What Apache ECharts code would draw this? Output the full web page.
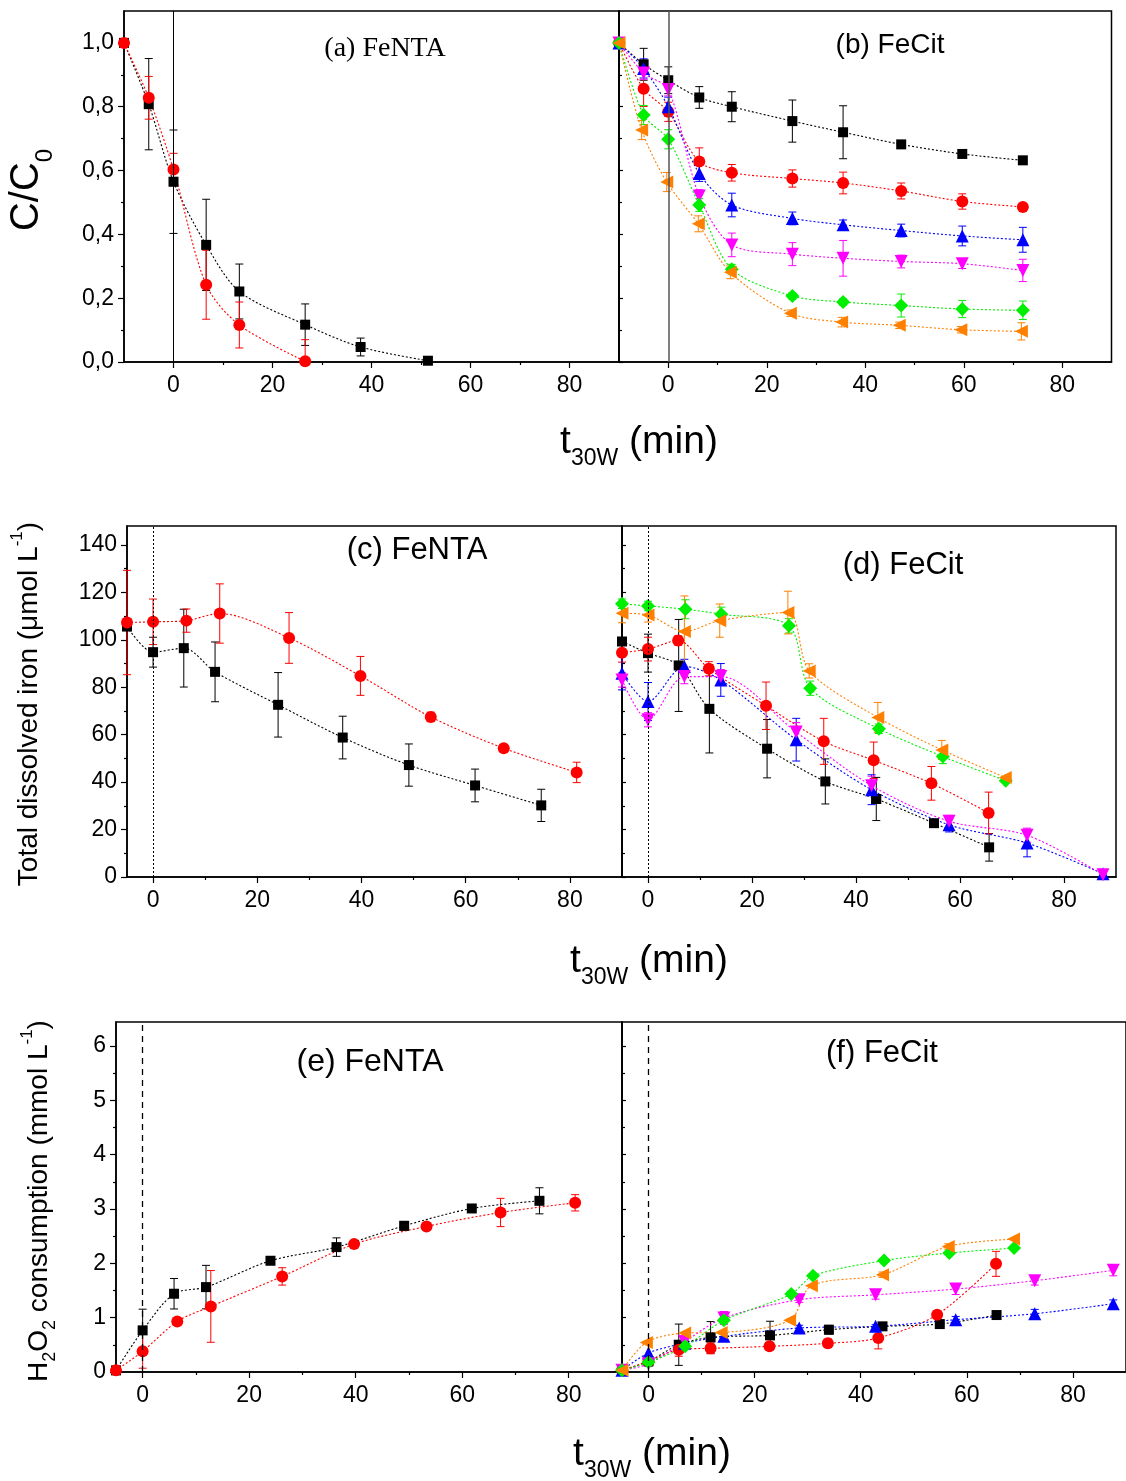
<!DOCTYPE html>
<html>
<head>
<meta charset="utf-8">
<script src="https://cdn.jsdelivr.net/npm/echarts@6/dist/echarts.min.js"></script>
<style>
  html, body { margin: 0; padding: 0; background: #ffffff; }
  #chart { width: 1126px; height: 1481px; }
</style>
</head>
<body>
<div id="chart"></div>
<script>
// ---- tick values ----
const timeTicks = [0, 20, 40, 60, 80];
const timeMinorTicks = [10, 30, 50, 70];
const ratioTicks = [0, 0.2, 0.4, 0.6, 0.8, 1.0];
const ratioMinorTicks = [0.1, 0.3, 0.5, 0.7, 0.9];
const ironTicks = [0, 20, 40, 60, 80, 100, 120, 140];
const ironMinorTicks = [10, 30, 50, 70, 90, 110, 130];
const h2o2Ticks = [0, 1, 2, 3, 4, 5, 6];
const h2o2MinorTicks = [0.5, 1.5, 2.5, 3.5, 4.5, 5.5];

// ---- data: [t30W (min), value, error] ----
// (a) FeNTA, C/C0
const ntaRatioBlack = [[-10, 1.0, 0], [-5, 0.808, 0.143], [0, 0.565, 0.162], [6.6, 0.367, 0.143], [13.3, 0.221, 0.086], [26.6, 0.117, 0.065], [37.8, 0.047, 0.028], [51.4, 0.004, 0]];
const ntaRatioRed = [[-10, 1.0, 0], [-5, 0.828, 0.067], [0, 0.603, 0.051], [6.6, 0.242, 0.108], [13.3, 0.116, 0.072], [26.6, 0.002, 0.068]];

// (b) FeCit, C/C0
const citRatioBlack = [[-10, 1, 0], [-5, 0.933, 0.05], [0, 0.883, 0.042], [6.3, 0.829, 0.034], [12.9, 0.8, 0.047], [25.2, 0.755, 0.066], [35.5, 0.72, 0.083], [47.3, 0.682, 0.01], [59.7, 0.652, 0.01], [72, 0.632, 0]];
const citRatioRed = [[-10, 1, 0], [-5, 0.856, 0.055], [0, 0.784, 0.03], [6.3, 0.628, 0.043], [12.9, 0.593, 0.026], [25.2, 0.575, 0.027], [35.5, 0.561, 0.034], [47.3, 0.536, 0.025], [59.7, 0.503, 0.024], [72, 0.486, 0]];
const citRatioBlue = [[-10, 1, 0], [-5, 0.92, 0.03], [0, 0.8, 0.03], [6.3, 0.591, 0.025], [12.9, 0.492, 0.037], [25.2, 0.45, 0.02], [35.5, 0.43, 0.015], [47.3, 0.412, 0.02], [59.7, 0.395, 0.031], [72, 0.383, 0.039]];
const citRatioMagenta = [[-10, 1, 0], [-5, 0.906, 0.02], [0, 0.854, 0.02], [6.3, 0.52, 0.02], [12.9, 0.367, 0.037], [25.2, 0.338, 0.036], [35.5, 0.325, 0.056], [47.3, 0.315, 0.02], [59.7, 0.308, 0.015], [72, 0.287, 0.035]];
const citRatioGreen = [[-10, 1, 0], [-5, 0.774, 0.03], [0, 0.698, 0.03], [6.3, 0.492, 0.02], [12.9, 0.291, 0.015], [25.2, 0.207, 0.01], [35.5, 0.188, 0.01], [47.3, 0.177, 0.036], [59.7, 0.166, 0.027], [72, 0.162, 0.029]];
const citRatioOrange = [[-10, 1, 0], [-5.4, 0.727, 0.03], [-0.3, 0.564, 0.03], [6.1, 0.433, 0.025], [12.6, 0.281, 0.02], [24.8, 0.153, 0.01], [35.2, 0.125, 0.015], [46.9, 0.115, 0.01], [59.4, 0.101, 0.01], [71.7, 0.096, 0.027]];

// (c) FeNTA, total dissolved iron
const ntaIronBlack = [[-5, 105.6, 0], [0, 94.8, 6.3], [5.9, 96.5, 16.4], [11.9, 86.5, 12.6], [24.0, 72.6, 13.6], [36.4, 58.8, 9], [49.1, 47.2, 8.9], [61.8, 38.6, 6.9], [74.5, 30.2, 6.8]];
const ntaIronRed = [[-5, 107.3, 22], [0, 107.6, 9.6], [6.4, 108.1, 4.9], [12.8, 111.1, 12.5], [26.1, 100.8, 10.7], [39.8, 84.8, 8.2], [53.3, 67.5, 2], [67.3, 54.3, 1.5], [81.3, 44.1, 4.3]];

// (d) FeCit, total dissolved iron
const citIronBlack = [[-5, 99.3, 0], [0, 94.4, 8], [5.9, 89.2, 19.4], [11.8, 70.9, 18.6], [22.9, 54.1, 12.3], [34.1, 40.3, 9.5], [43.9, 32.9, 9.1], [55.0, 22.7, 1.5], [65.6, 12.5, 5.8]];
const citIronRed = [[-5, 94.6, 4], [0, 96.1, 5], [5.8, 99.7, 2], [11.7, 87.8, 3], [22.7, 72.2, 10], [33.8, 57.2, 9.7], [43.4, 49.2, 7.7], [54.5, 39.5, 7.1], [65.5, 27.0, 8.8]];
const citIronBlue = [[-5, 85.9, 7], [0, 74.0, 8], [7.0, 88.8, 3], [14.0, 83.1, 6.9], [28.5, 57.9, 9], [43.0, 36.8, 6.3], [57.9, 22.0, 3], [72.9, 14.3, 5.8], [87.5, 1.4, 0]];
const citIronMagenta = [[-5, 83.1, 3], [0, 66.3, 3], [7.0, 84.5, 3], [14.0, 84.5, 3], [28.5, 61.1, 4], [43.0, 38.5, 4], [57.9, 23.5, 2.5], [72.9, 17.6, 3], [87.5, 1.0, 0]];
const citIronGreen = [[-5, 115.2, 2], [0, 114.3, 2], [7.2, 112.9, 4], [14.1, 110.8, 3], [27.1, 105.9, 3], [31.2, 79.6, 3], [44.4, 62.5, 2], [56.7, 50.8, 3], [68.8, 40.6, 0]];
const citIronOrange = [[-5, 111.2, 4], [0, 110.5, 3], [7.0, 103.5, 15], [13.8, 108.1, 7], [26.9, 111.5, 9], [31.0, 86.9, 3], [44.2, 67.3, 6.3], [56.5, 53.6, 4], [68.7, 42.0, 0]];

// (e) FeNTA, H2O2 consumption
const ntaH2o2Black = [[-5, 0.03, 0], [0, 0.766, 0.39], [5.9, 1.44, 0.28], [11.9, 1.562, 0.4], [24.0, 2.047, 0.05], [36.4, 2.298, 0.17], [49.1, 2.69, 0.08], [61.8, 3.009, 0.03], [74.5, 3.15, 0.24]];
const ntaH2o2Red = [[-5, 0.03, 0], [0, 0.38, 0.31], [6.5, 0.931, 0], [12.8, 1.207, 0.66], [26.2, 1.759, 0.16], [39.7, 2.353, 0.03], [53.3, 2.678, 0.03], [67.2, 2.935, 0.26], [81.2, 3.113, 0.15]];

// (f) FeCit, H2O2 consumption
const citH2o2Black = [[-5, 0.03, 0], [0, 0.196, 0], [5.7, 0.502, 0.38], [11.7, 0.637, 0.29], [22.9, 0.674, 0.26], [34.0, 0.778, 0.08], [44.1, 0.84, 0.03], [54.9, 0.882, 0.06], [65.6, 1.048, 0.03]];
const citH2o2Red = [[-5, 0.03, 0], [0, 0.2, 0.05], [5.7, 0.41, 0.12], [11.7, 0.435, 0.1], [22.8, 0.472, 0.06], [33.8, 0.527, 0.08], [43.3, 0.625, 0.2], [54.4, 1.054, 0], [65.5, 1.99, 0.23]];
const citH2o2Blue = [[-5, 0.03, 0], [0, 0.35, 0], [6.8, 0.53, 0.05], [14.2, 0.656, 0.05], [28.4, 0.81, 0.05], [42.8, 0.84, 0.03], [57.9, 0.962, 0.06], [72.8, 1.072, 0.08], [87.6, 1.256, 0.07]];
const citH2o2Magenta = [[-5, 0.03, 0], [0, 0.15, 0.05], [6.8, 0.56, 0.05], [14.2, 0.993, 0.12], [28.4, 1.33, 0.05], [42.8, 1.42, 0.08], [57.9, 1.526, 0.1], [72.8, 1.68, 0.08], [87.6, 1.87, 0.1]];
const citH2o2Green = [[-5, 0.03, 0], [0, 0.178, 0.04], [6.9, 0.472, 0.05], [14.2, 0.95, 0.05], [26.9, 1.434, 0], [31.0, 1.77, 0], [44.4, 2.05, 0], [56.7, 2.19, 0], [68.9, 2.28, 0]];
const citH2o2Orange = [[-5, 0.03, 0], [-0.4, 0.545, 0], [6.8, 0.717, 0], [13.7, 0.729, 0], [26.6, 0.95, 0], [30.7, 1.587, 0], [44.1, 1.79, 0.05], [56.5, 2.31, 0.05], [68.8, 2.445, 0]];

// ---- marker styles ----
const SANS = 'Liberation Sans, Arial, sans-serif';
const SERIF = 'Liberation Serif, Times New Roman, serif';
const marks = {
  black:   { color: '#000000', symbol: 'rect', size: 10, rotate: 0 },
  red:     { color: '#ff0000', symbol: 'circle', size: 12, rotate: 0 },
  blue:    { color: '#0000ff', symbol: 'triangle', size: 13, rotate: 0 },
  magenta: { color: '#ff00ff', symbol: 'triangle', size: 13, rotate: 180 },
  green:   { color: '#00ee00', symbol: 'diamond', size: [14, 14], rotate: 0 },
  orange:  { color: '#ff8000', symbol: 'triangle', size: 13, rotate: 90 }
};

// ---- panel layout ----
const panels = [
  { box: [124, 11, 495, 351], x: [-10, 90], y: [0, 1.1], yTicks: ratioTicks, yMinor: ratioMinorTicks, yLabels: true,
    fmt: v => v.toFixed(1).replace('.', ','), zero: { type: 'solid', color: '#000', width: 1 },
    sets: [['black', ntaRatioBlack], ['red', ntaRatioRed]] },
  { box: [619, 11, 492.5, 351], x: [-10, 90], y: [0, 1.1], yTicks: ratioTicks, yMinor: ratioMinorTicks, yLabels: false,
    zero: { type: 'solid', color: '#555', width: 1.5 },
    sets: [['black', citRatioBlack], ['red', citRatioRed], ['blue', citRatioBlue], ['magenta', citRatioMagenta], ['green', citRatioGreen], ['orange', citRatioOrange]] },
  { box: [127, 526, 495, 351], x: [-5, 90], y: [0, 148], yTicks: ironTicks, yMinor: ironMinorTicks, yLabels: true,
    fmt: v => String(v), zero: { type: [2, 2], color: '#000', width: 1 },
    sets: [['black', ntaIronBlack], ['red', ntaIronRed]] },
  { box: [622, 526, 494, 351], x: [-5, 90], y: [0, 148], yTicks: ironTicks, yMinor: ironMinorTicks, yLabels: false,
    zero: { type: [2, 2], color: '#000', width: 1 },
    sets: [['black', citIronBlack], ['red', citIronRed], ['blue', citIronBlue], ['magenta', citIronMagenta], ['green', citIronGreen], ['orange', citIronOrange]] },
  { box: [116, 1022, 506, 350], x: [-5, 90], y: [0, 6.44], yTicks: h2o2Ticks, yMinor: h2o2MinorTicks, yLabels: true,
    fmt: v => String(v), zero: { type: [6, 5], color: '#000', width: 1.3 },
    sets: [['black', ntaH2o2Black], ['red', ntaH2o2Red]] },
  { box: [622, 1022, 505, 350], x: [-5, 90], y: [0, 6.44], yTicks: h2o2Ticks, yMinor: h2o2MinorTicks, yLabels: false,
    zero: { type: [6, 5], color: '#000', width: 1.3 },
    sets: [['black', citH2o2Black], ['red', citH2o2Red], ['blue', citH2o2Blue], ['magenta', citH2o2Magenta], ['green', citH2o2Green], ['orange', citH2o2Orange]] }
];

const grid = [], xAxis = [], yAxis = [], series = [];

panels.forEach((p, i) => {
  const [l, t, w, h] = p.box;
  grid.push({ left: l, top: t, width: w, height: h, show: true, borderColor: '#000', borderWidth: 1.5, backgroundColor: 'transparent' });
  const ax = 2 * i;
  // main x axis + minor ticks
  xAxis.push({
    gridIndex: i, type: 'value', min: p.x[0], max: p.x[1], position: 'bottom',
    axisLine: { show: true, onZero: false, lineStyle: { color: '#000', width: 1.5 } },
    axisTick: { show: true, inside: false, length: 6, customValues: timeTicks, lineStyle: { color: '#000', width: 1.2 } },
    axisLabel: { show: true, customValues: timeTicks, fontSize: 23, color: '#000', fontFamily: SANS, margin: 12 },
    splitLine: { show: false }
  });
  xAxis.push({
    gridIndex: i, type: 'value', min: p.x[0], max: p.x[1], position: 'bottom',
    axisLine: { show: false, onZero: false },
    axisTick: { show: true, inside: false, length: 3, customValues: timeMinorTicks, lineStyle: { color: '#000', width: 1.2 } },
    axisLabel: { show: false }, splitLine: { show: false }
  });
  // main y axis + minor ticks
  yAxis.push({
    gridIndex: i, type: 'value', min: p.y[0], max: p.y[1], position: 'left',
    axisLine: { show: true, onZero: false, lineStyle: { color: '#000', width: 1.5 } },
    axisTick: { show: true, inside: !p.yLabels, length: p.yLabels ? 6 : 4, customValues: p.yTicks, lineStyle: { color: '#000', width: 1.2 } },
    axisLabel: { show: p.yLabels, customValues: p.yTicks, fontSize: 23, color: '#000', fontFamily: SANS, margin: 10, formatter: p.fmt },
    splitLine: { show: false }
  });
  yAxis.push({
    gridIndex: i, type: 'value', min: p.y[0], max: p.y[1], position: 'left',
    axisLine: { show: false, onZero: false },
    axisTick: { show: true, inside: !p.yLabels, length: 3, customValues: p.yMinor, lineStyle: { color: '#000', width: 1.2 } },
    axisLabel: { show: false }, splitLine: { show: false }
  });

  p.sets.forEach(([key, data], k) => {
    const m = marks[key];
    const lineSeries = {
      type: 'line', xAxisIndex: ax, yAxisIndex: ax,
      data: data.map(d => [d[0], d[1]]),
      smooth: 0.3, showAllSymbol: true,
      symbol: m.symbol, symbolSize: m.size, symbolRotate: m.rotate,
      itemStyle: { color: m.color },
      lineStyle: { color: m.color, width: 1.1, type: [2, 2] },
      z: 4
    };
    if (k === 0) {
      lineSeries.markLine = {
        silent: true, symbol: 'none', label: { show: false },
        lineStyle: { color: p.zero.color, width: p.zero.width, type: p.zero.type },
        data: [{ xAxis: 0 }]
      };
    }
    series.push(lineSeries);
    // error bars
    series.push({
      type: 'custom', xAxisIndex: ax, yAxisIndex: ax, silent: true, z: 3,
      data: data.filter(d => d[2] > 0),
      encode: { x: 0, y: 1 },
      renderItem: (params, api) => {
        const x = api.value(0), y = api.value(1), e = api.value(2);
        const hi = Math.min(y + e, p.y[1]);
        const lo = Math.max(y - e, p.y[0]);
        const top = api.coord([x, hi]);
        const bot = api.coord([x, lo]);
        const st = { stroke: m.color, lineWidth: 1 };
        const cap = 4;
        const kids = [{ type: 'line', shape: { x1: top[0], y1: top[1], x2: bot[0], y2: bot[1] }, style: st }];
        if (y + e <= p.y[1]) kids.push({ type: 'line', shape: { x1: top[0] - cap, y1: top[1], x2: top[0] + cap, y2: top[1] }, style: st });
        if (y - e >= p.y[0]) kids.push({ type: 'line', shape: { x1: bot[0] - cap, y1: bot[1], x2: bot[0] + cap, y2: bot[1] }, style: st });
        return { type: 'group', children: kids };
      }
    });
  });
});

// ---- text: panel titles and axis names ----
function label(text, x, y, size, family) {
  return { type: 'text', x: x, y: y, z: 10, style: { text: text, fontSize: size, fontFamily: family || SANS, fill: '#000', align: 'center', verticalAlign: 'middle' } };
}
function timeName(x, y) {
  return {
    type: 'text', x: x, y: y, z: 10,
    style: {
      text: '{t|t}{s|30W}{m| (min)}', align: 'center', verticalAlign: 'middle',
      rich: {
        t: { fontSize: 39, fontFamily: SANS, fill: '#000', lineHeight: 56 },
        s: { fontSize: 23, fontFamily: SANS, fill: '#000', lineHeight: 20, verticalAlign: 'bottom' },
        m: { fontSize: 39, fontFamily: SANS, fill: '#000', lineHeight: 56 }
      }
    }
  };
}
function verticalName(text, rich, x, y) {
  return { type: 'text', x: x, y: y, rotation: Math.PI / 2, z: 10, style: { text: text, align: 'center', verticalAlign: 'middle', rich: rich } };
}

const graphic = [
  label('(a) FeNTA', 385, 49, 28, SERIF),
  label('(b) FeCit', 890, 45, 28),
  label('(c) FeNTA', 417, 550, 31),
  label('(d) FeCit', 903, 565, 31),
  label('(e) FeNTA', 370, 1062, 32),
  label('(f) FeCit', 882, 1053, 31),
  timeName(639, 442),
  timeName(649, 961),
  timeName(652, 1454),
  verticalName('{m|C/C}{s|0}', {
    m: { fontSize: 40, fontFamily: SANS, fill: '#000', lineHeight: 60 },
    s: { fontSize: 24, fontFamily: SANS, fill: '#000', lineHeight: 18, verticalAlign: 'bottom' }
  }, 27, 190),
  verticalName('{m|Total dissolved iron (\u03bcmol L}{u|-1}{m|)}', {
    m: { fontSize: 28, fontFamily: SANS, fill: '#000', lineHeight: 40 },
    u: { fontSize: 17, fontFamily: SANS, fill: '#000', lineHeight: 16, verticalAlign: 'top' }
  }, 29, 704),
  verticalName('{m|H}{s|2}{m|O}{s|2}{m| consumption (mmol L}{u|-1}{m|)}', {
    m: { fontSize: 28, fontFamily: SANS, fill: '#000', lineHeight: 40 },
    s: { fontSize: 18, fontFamily: SANS, fill: '#000', lineHeight: 16, verticalAlign: 'bottom' },
    u: { fontSize: 17, fontFamily: SANS, fill: '#000', lineHeight: 16, verticalAlign: 'top' }
  }, 39, 1201)
];

const chart = echarts.init(document.getElementById('chart'), null, { renderer: 'canvas' });
chart.setOption({
  animation: false,
  backgroundColor: '#ffffff',
  grid: grid,
  xAxis: xAxis,
  yAxis: yAxis,
  series: series,
  graphic: graphic
});
</script>
</body>
</html>
